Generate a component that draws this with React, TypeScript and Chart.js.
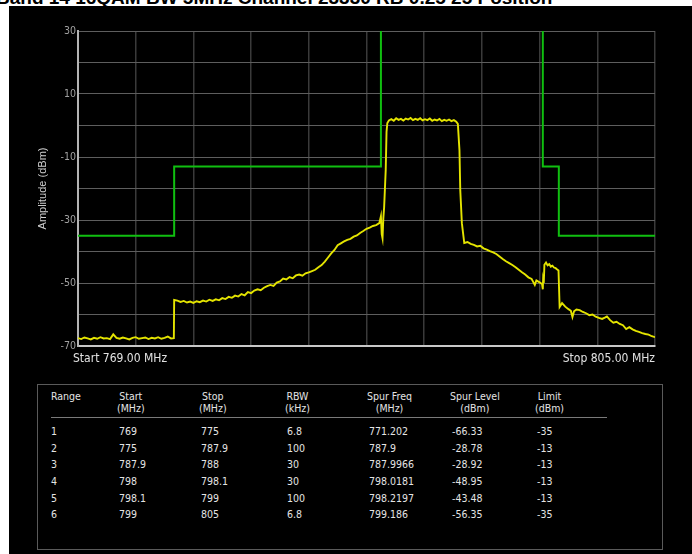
import React, { useEffect, useRef } from "react";
import { Chart, registerables } from "chart.js";

Chart.register(...registerables);

// ---------- data ----------
const TITLE = "Band 14 16QAM BW 5MHz Channel 23330 RB 0.25 25 Position";
const Y_AXIS_TITLE = "Amplitude (dBm)";
const X_MIN = 769;
const X_MAX = 805;
const X_GRID_STEP = 3.6;
const Y_MIN = -70;
const Y_MAX = 30;
const Y_GRID_STEP = 10;
const Y_TICK_LABELS = [30, 10, -10, -30, -50, -70];
const START_LABEL = "Start 769.00 MHz";
const STOP_LABEL = "Stop 805.00 MHz";

// limit mask (MHz, dBm) – the open window above the carrier is drawn off the top
const LIMIT_FREQ = [769, 775, 775, 787.9, 787.9, 798, 798, 799, 799, 805];
const LIMIT_DBM = [-35, -35, -13, -13, 80, 80, -13, -13, -35, -35];

// measured trace (MHz, dBm)
const TRACE: [number, number][] = [
  [769.0, -67.5], [769.2, -67.8], [769.4, -67.3], [769.6, -67.6], [769.8, -67.9],
  [770.0, -67.4], [770.2, -67.7], [770.4, -67.2], [770.6, -67.6], [770.8, -67.5],
  [771.0, -67.8], [771.2, -66.3], [771.4, -67.4], [771.6, -67.7], [771.8, -67.3],
  [772.0, -67.6], [772.2, -67.9], [772.4, -67.4], [772.6, -67.2], [772.8, -67.7],
  [773.0, -67.5], [773.2, -67.3], [773.4, -67.8], [773.6, -67.4], [773.8, -67.6],
  [774.0, -67.2], [774.2, -67.7], [774.4, -67.4], [774.6, -67.0], [774.8, -67.6],
  [774.98, -67.5],
  [775.0, -55.4], [775.2, -55.6], [775.4, -56.0], [775.6, -55.7], [775.8, -56.2],
  [776.0, -55.9], [776.2, -56.3], [776.4, -55.8], [776.6, -56.1], [776.8, -55.6],
  [777.0, -55.9], [777.2, -55.3], [777.4, -55.7], [777.6, -55.2], [777.8, -55.5],
  [778.0, -54.8], [778.2, -55.1], [778.4, -54.4], [778.6, -54.7], [778.8, -54.0],
  [779.0, -54.3], [779.2, -53.5], [779.4, -53.9], [779.6, -52.9], [779.8, -53.2],
  [780.0, -52.4], [780.2, -52.0], [780.4, -52.3], [780.6, -51.5], [780.8, -51.0],
  [781.0, -50.6], [781.2, -50.9], [781.4, -49.9], [781.6, -49.5], [781.8, -48.6],
  [782.0, -48.9], [782.2, -48.1], [782.4, -48.5], [782.6, -47.6], [782.8, -47.3],
  [783.0, -47.7], [783.2, -46.9], [783.4, -46.6], [783.6, -46.2], [783.8, -45.8],
  [784.0, -45.0], [784.2, -44.3], [784.4, -43.2], [784.6, -41.9], [784.8, -40.6],
  [785.0, -39.5], [785.2, -38.0], [785.4, -37.4], [785.6, -36.8], [785.8, -36.3],
  [786.0, -36.0], [786.2, -35.3], [786.4, -34.9], [786.6, -34.1], [786.8, -33.5],
  [787.0, -32.8], [787.2, -32.4], [787.4, -31.9], [787.6, -31.6], [787.8, -31.0],
  [787.9, -28.8], [787.95, -34.5], [788.0, -35.8], [788.05, -29.5], [788.1, -26.0],
  [788.2, -14.0], [788.25, -2.0], [788.3, 0.8],
  [788.4, 1.6], [788.55, 2.0], [788.7, 1.5], [788.85, 2.3], [789.0, 1.8],
  [789.15, 2.1], [789.3, 1.6], [789.45, 2.2], [789.6, 1.9], [789.75, 2.4],
  [789.9, 1.7], [790.05, 2.1], [790.2, 1.8], [790.35, 2.3], [790.5, 1.6],
  [790.65, 2.0], [790.8, 1.7], [790.95, 2.2], [791.1, 1.5], [791.25, 1.9],
  [791.4, 1.6], [791.55, 2.1], [791.7, 1.4], [791.85, 1.8], [792.0, 1.5],
  [792.15, 1.9], [792.3, 1.4], [792.45, 1.7], [792.6, 1.2], [792.7, 0.5],
  [792.8, -7.8], [792.85, -20.5], [792.95, -31.0], [793.1, -37.3],
  [793.3, -37.0], [793.5, -37.6], [793.7, -37.9], [793.9, -38.4], [794.1, -38.2],
  [794.3, -39.0], [794.5, -39.4], [794.7, -39.9], [794.9, -40.3], [795.1, -40.8],
  [795.3, -41.6], [795.5, -42.4], [795.7, -43.1], [795.9, -43.7], [796.1, -44.3],
  [796.3, -45.0], [796.5, -45.8], [796.7, -46.6], [796.9, -47.3], [797.1, -48.2],
  [797.3, -48.7], [797.5, -50.6], [797.6, -49.2], [797.8, -49.8], [797.95, -50.3],
  [798.0, -52.0], [798.02, -48.95], [798.06, -50.0],
  [798.1, -44.2], [798.2, -43.5], [798.3, -44.4], [798.4, -44.0], [798.5, -44.8],
  [798.6, -44.5], [798.7, -45.1], [798.8, -45.3], [798.9, -45.7], [798.98, -46.0],
  [799.05, -57.6], [799.2, -56.4], [799.4, -57.5], [799.6, -58.3], [799.75, -58.8],
  [799.85, -60.8], [799.95, -59.0], [800.1, -58.4], [800.3, -58.6], [800.5, -59.2],
  [800.7, -59.6], [800.9, -60.2], [801.1, -60.0], [801.3, -60.7], [801.5, -61.1],
  [801.7, -61.4], [801.9, -60.9], [802.0, -60.6], [802.2, -61.8], [802.4, -62.6],
  [802.6, -62.3], [802.8, -63.0], [803.0, -63.4], [803.2, -64.6], [803.4, -64.0],
  [803.6, -64.7], [803.8, -65.2], [804.0, -65.5], [804.2, -65.9], [804.4, -66.2],
  [804.6, -66.4], [804.8, -66.9], [805.0, -67.2],
];

// results table
const TABLE_HEADERS: string[][] = [
  ["Range"],
  ["Start", "(MHz)"],
  ["Stop", "(MHz)"],
  ["RBW", "(kHz)"],
  ["Spur Freq", "(MHz)"],
  ["Spur Level", "(dBm)"],
  ["Limit", "(dBm)"],
];
const RANGE = ["1", "2", "3", "4", "5", "6"];
const START_MHZ = ["769", "775", "787.9", "798", "798.1", "799"];
const STOP_MHZ = ["775", "787.9", "788", "798.1", "799", "805"];
const RBW_KHZ = ["6.8", "100", "30", "30", "100", "6.8"];
const SPUR_FREQ = ["771.202", "787.9", "787.9966", "798.0181", "798.2197", "799.186"];
const SPUR_LEVEL = ["-66.33", "-28.78", "-28.92", "-48.95", "-43.48", "-56.35"];
const LIMIT_COL = ["-35", "-13", "-13", "-13", "-13", "-35"];

// ---------- layout ----------
const COL_X = [13, 81, 163, 249, 331, 414, 499];
const ROW_TOP0 = 40;
const ROW_STEP = 16.65;
const NARROW = '"Liberation Sans Narrow", "Arial Narrow", "DejaVu Sans Condensed", sans-serif';
const SANS = '"Liberation Sans", Arial, sans-serif';

const edgeLabels = {
  id: "edgeLabels",
  afterDraw(chart: any) {
    const { ctx, chartArea } = chart;
    ctx.save();
    ctx.font = `12px ${NARROW}`;
    ctx.fillStyle = "#e2e2e2";
    ctx.textBaseline = "alphabetic";
    ctx.textAlign = "left";
    ctx.fillText(START_LABEL, chartArea.left - 5, chartArea.bottom + 16);
    ctx.textAlign = "right";
    ctx.fillText(STOP_LABEL, chartArea.right, chartArea.bottom + 16);
    ctx.restore();
  },
};

export default function App() {
  const ref = useRef<HTMLCanvasElement>(null);

  useEffect(() => {
    const canvas = ref.current;
    if (!canvas) return;
    const chart = new Chart(canvas, {
      type: "line",
      data: {
        datasets: [
          {
            label: "Trace",
            data: TRACE.map(([x, y]) => ({ x, y })),
            borderColor: "#e4e400",
            borderWidth: 1.9,
            pointRadius: 0,
            tension: 0,
          },
          {
            label: "Limit",
            data: LIMIT_FREQ.map((x, i) => ({ x, y: LIMIT_DBM[i] })),
            borderColor: "#10bf10",
            borderWidth: 2,
            pointRadius: 0,
            tension: 0,
          },
        ],
      },
      options: {
        animation: false,
        responsive: false,
        events: [],
        layout: { padding: { left: 0, right: 37, top: 25, bottom: 0 } },
        plugins: {
          legend: { display: false },
          tooltip: { enabled: false },
        },
        scales: {
          x: {
            type: "linear",
            min: X_MIN,
            max: X_MAX,
            ticks: { display: false, stepSize: X_GRID_STEP },
            grid: { color: "#3a3a3a", lineWidth: 1.5, drawTicks: false },
            border: { color: "#c8c8c8", width: 2 },
            afterFit: (s: any) => {
              s.height = 30;
            },
          },
          y: {
            type: "linear",
            min: Y_MIN,
            max: Y_MAX,
            ticks: {
              stepSize: Y_GRID_STEP,
              autoSkip: false,
              color: "#a0a0a0",
              padding: 2,
              font: { size: 10.5, family: NARROW },
              callback: (v: any) => (Y_TICK_LABELS.includes(Number(v)) ? String(v) : ""),
            },
            grid: { color: "#5e5e5e", lineWidth: 1, drawTicks: false },
            border: { color: "#b4b4b4", width: 2 },
            title: {
              display: true,
              text: Y_AXIS_TITLE,
              color: "#cfcfcf",
              font: { size: 11, family: SANS },
              padding: { top: 27, bottom: 0 },
            },
            afterFit: (s: any) => {
              s.width = 69;
            },
          },
        },
      },
      plugins: [edgeLabels],
    });
    return () => chart.destroy();
  }, []);

  const cols = [RANGE, START_MHZ, STOP_MHZ, RBW_KHZ, SPUR_FREQ, SPUR_LEVEL, LIMIT_COL];

  return (
    <div
      style={{
        position: "fixed",
        left: 0,
        top: 0,
        width: 692,
        height: 554,
        background: "#fff",
        overflow: "hidden",
      }}
    >
      <div
        style={{
          position: "absolute",
          left: -4,
          top: -12,
          whiteSpace: "nowrap",
          font: `bold 19px ${SANS}`,
          lineHeight: "19px",
          color: "#000",
        }}
      >
        {TITLE}
      </div>
      <div
        style={{
          position: "absolute",
          left: 9,
          top: 6,
          width: 683,
          height: 548,
          background: "#000",
        }}
      >
        <canvas
          ref={ref}
          width={683}
          height={370}
          style={{ position: "absolute", left: 0, top: 0, width: 683, height: 370 }}
        />
        <div
          style={{
            position: "absolute",
            left: 28,
            top: 378,
            width: 626,
            height: 166,
            boxSizing: "border-box",
            border: "1px solid #5a5a5a",
            color: "#e4e4e4",
            font: `10.5px ${NARROW}`,
          }}
        >
          {TABLE_HEADERS.map((h, c) => (
            <div
              key={"h" + c}
              style={{
                position: "absolute",
                left: COL_X[c] - (c === 0 ? 0 : 2),
                top: 6,
                lineHeight: "11.5px",
                textAlign: c === 0 ? "left" : "center",
                whiteSpace: "nowrap",
              }}
            >
              {h.map((line, k) => (
                <div key={k}>{line}</div>
              ))}
            </div>
          ))}
          <div
            style={{
              position: "absolute",
              left: COL_X[0],
              top: 32,
              width: 556,
              height: 1,
              background: "#7a7a7a",
            }}
          />
          {cols.map((col, c) =>
            col.map((val, r) => (
              <div
                key={c + "-" + r}
                style={{
                  position: "absolute",
                  left: COL_X[c],
                  top: ROW_TOP0 + r * ROW_STEP,
                  lineHeight: "12px",
                  whiteSpace: "nowrap",
                }}
              >
                {val}
              </div>
            ))
          )}
        </div>
      </div>
    </div>
  );
}
